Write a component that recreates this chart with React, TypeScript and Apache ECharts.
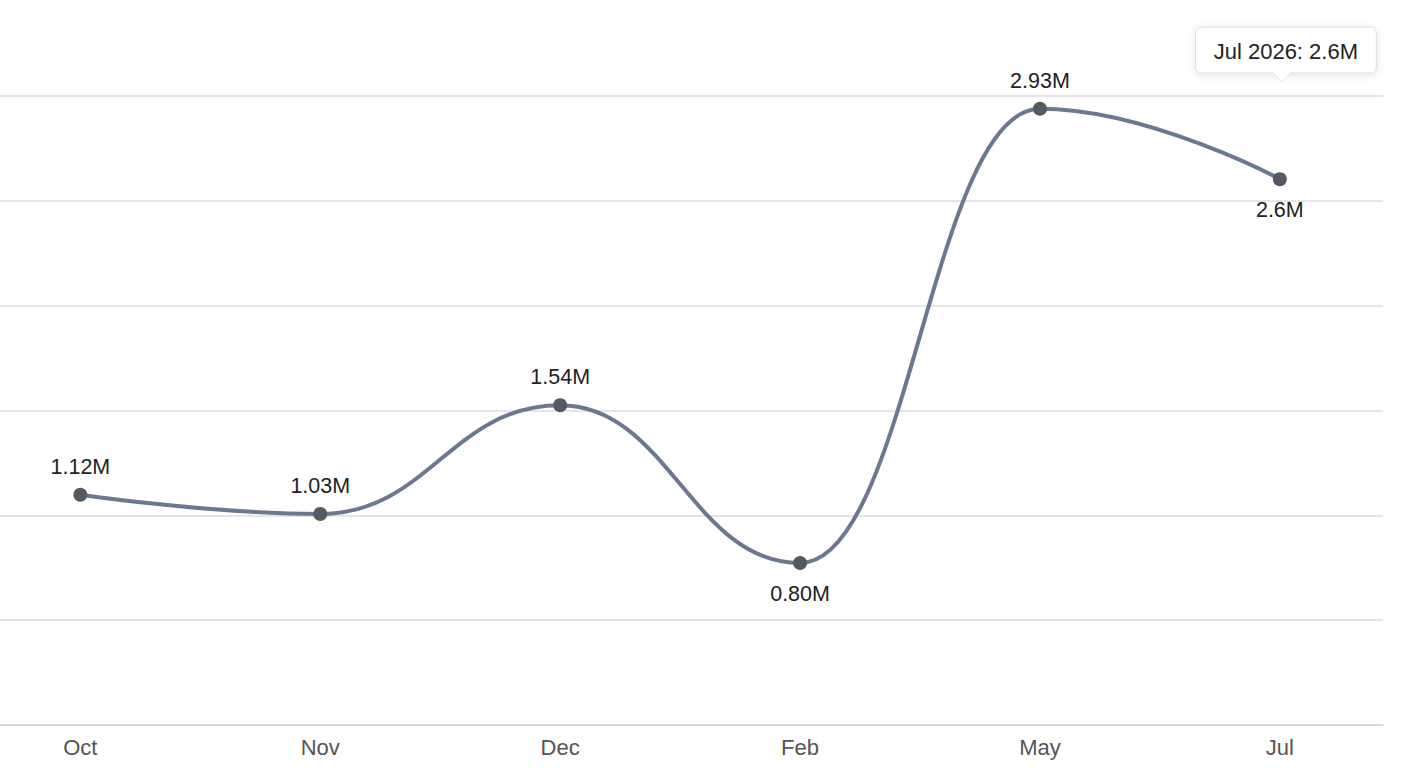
import { useEffect, useRef } from 'react';
import * as echarts from 'echarts';

// months shown on the x axis, one point each
const MONTHS = ['Oct', 'Nov', 'Dec', 'Feb', 'May', 'Jul'];
const PERIODS = ['Oct 2025', 'Nov 2025', 'Dec 2025', 'Feb 2026', 'May 2026', 'Jul 2026'];
// values in millions
const VALUES = [1.12, 1.03, 1.54, 0.8, 2.93, 2.6];
const LABELS = ['1.12M', '1.03M', '1.54M', '0.80M', '2.93M', '2.6M'];
const LABEL_SIDE = ['top', 'top', 'top', 'bottom', 'top', 'bottom'];
const Y_TICKS = [0, 0.5, 1, 1.5, 2, 2.5, 3];
const ACTIVE_INDEX = 5;

const FONT = '"Liberation Sans", Arial, Helvetica, sans-serif';

export default function App() {
  const chartRef = useRef<HTMLDivElement>(null);

  useEffect(() => {
    if (!chartRef.current) return;
    const chart = echarts.init(chartRef.current, null, { renderer: 'svg' });

    chart.setOption({
      animation: false,
      textStyle: { fontFamily: FONT },
      grid: { left: 0, right: 25, top: 96, bottom: 43, containLabel: false },
      xAxis: {
        type: 'value',
        min: -0.335,
        max: 5.43,
        splitLine: { show: false },
        axisTick: { show: false },
        axisLine: { show: true, lineStyle: { color: '#d4d4d4', width: 1.5 } },
        axisLabel: {
          customValues: MONTHS.map((_, i) => i),
          formatter: (v: number) => MONTHS[Math.round(v)] ?? '',
          color: '#555',
          fontSize: 22,
          margin: 11,
          fontFamily: FONT,
        },
      },
      yAxis: [
        {
          // gridlines
          type: 'value',
          min: Y_TICKS[0],
          max: Y_TICKS[Y_TICKS.length - 1],
          interval: 0.5,
          axisLine: { show: false },
          axisTick: { show: false },
          axisLabel: { show: false },
          splitLine: { lineStyle: { color: '#dcdcdc', width: 1.5 } },
        },
        {
          // value scale of the line
          type: 'value',
          show: false,
          min: 0.04,
          max: 2.99,
          splitLine: { show: false },
        },
      ],
      series: [
        {
          type: 'line',
          yAxisIndex: 1,
          smooth: 0.45,
          smoothMonotone: 'x',
          symbol: 'circle',
          symbolSize: 14,
          lineStyle: { color: '#6b7890', width: 4 },
          itemStyle: { color: '#555a62' },
          data: VALUES.map((v, i) => ({
            value: [i, v],
            label: {
              show: true,
              position: LABEL_SIDE[i],
              distance: LABEL_SIDE[i] === 'top' ? 10 : 13,
              formatter: LABELS[i],
              color: '#222',
              fontSize: 21.5,
              fontFamily: FONT,
            },
          })),
        },
      ],
    });

    // tooltip-like callout above the last point
    const [px] = chart.convertToPixel({ seriesIndex: 0 }, [ACTIVE_INDEX, VALUES[ACTIVE_INDEX]]);
    const boxW = 181;
    const boxH = 46;
    const boxTop = 27;
    const cx = px + 6;
    const ax = px + 2;
    chart.setOption({
      graphic: [
        {
          type: 'group',
          children: [
            {
              type: 'rect',
              shape: { x: cx - boxW / 2, y: boxTop, width: boxW, height: boxH, r: 6 },
              style: {
                fill: '#fff',
                stroke: '#dcdcdc',
                lineWidth: 1,
                shadowBlur: 8,
                shadowColor: 'rgba(0,0,0,0.10)',
                shadowOffsetY: 2,
              },
            },
            {
              type: 'polygon',
              shape: { points: [[ax - 9, boxTop + boxH - 1], [ax, boxTop + boxH + 9], [ax + 9, boxTop + boxH - 1]] },
              style: { fill: '#fff' },
            },
            {
              type: 'polyline',
              shape: { points: [[ax - 9, boxTop + boxH], [ax, boxTop + boxH + 9], [ax + 9, boxTop + boxH]] },
              style: { stroke: '#e4e4e4', lineWidth: 1, fill: 'none' },
            },
            {
              type: 'text',
              x: cx,
              y: boxTop + boxH / 2 + 1,
              style: {
                text: `${PERIODS[ACTIVE_INDEX]}: ${LABELS[ACTIVE_INDEX]}`,
                fill: '#222',
                fontSize: 22,
                fontFamily: FONT,
                align: 'center',
                verticalAlign: 'middle',
              },
            },
          ],
        },
      ],
    });

    return () => {
      chart.dispose();
    };
  }, []);

  return (
    <div
      ref={chartRef}
      style={{ position: 'fixed', left: 0, top: 0, width: 1408, height: 768, background: '#fff' }}
    />
  );
}
